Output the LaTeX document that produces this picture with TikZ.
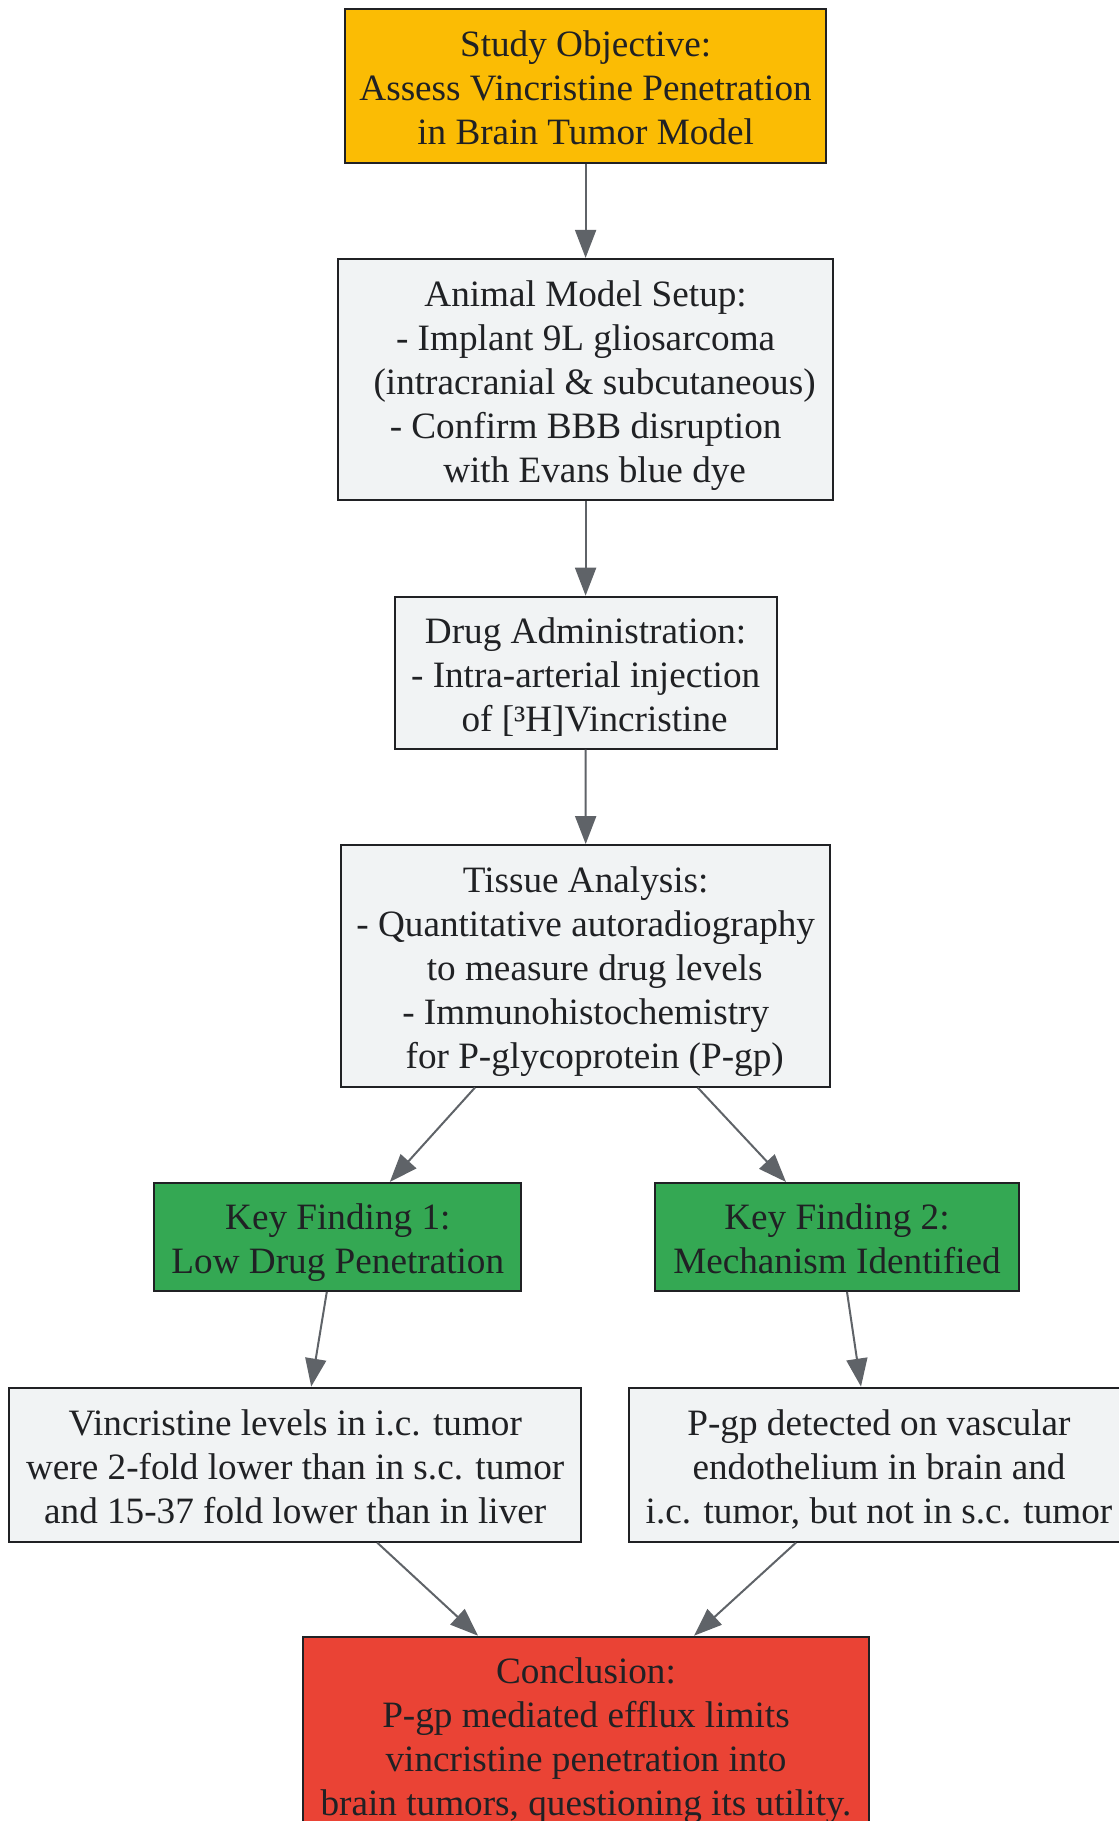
\documentclass[tikz,border=0pt]{standalone}
\usepackage{fontspec}
\setmainfont{Liberation Serif}
\usetikzlibrary{arrows.meta,calc}
\definecolor{ink}{HTML}{202124}
\definecolor{edge}{HTML}{5F6368}
\definecolor{cyellow}{HTML}{FBBC04}
\definecolor{cgray}{HTML}{F1F3F4}
\definecolor{cgreen}{HTML}{34A853}
\definecolor{cred}{HTML}{EA4335}
\tikzset{
  box/.style={draw=ink, line width=2pt, text=ink, inner sep=0pt, align=center,
    font=\fontsize{37.2}{44}\selectfont},
  conn/.style={draw=edge, line width=2pt, -{Triangle[length=28pt,width=21pt]}}
}
\newcommand{\ind}{\hspace*{18pt}}
\newcommand{\firststrut}{\rule{0pt}{42pt}}
\newcommand{\laststrut}{\strut}
\begin{document}
\begin{tikzpicture}[x=1pt,y=-1pt]
\useasboundingbox (0,0) rectangle (1119,1821);
\clip (0,0) rectangle (1119,1821);
\node[box, fill=cyellow, minimum width=481.7pt, minimum height=153.2pt] (n1) at (585.6,85.9)
  {\firststrut Study Objective:\\Assess Vincristine Penetration\\in Brain Tumor Model\laststrut};
\node[box, fill=cgray, minimum width=495.7pt, minimum height=241.4pt] (n2) at (585.6,379.6)
  {\firststrut Animal Model Setup:\\- Implant 9L gliosarcoma\\\ind(intracranial \& subcutaneous)\\- Confirm BBB disruption\\\ind with Evans blue dye\laststrut};
\node[box, fill=cgray, minimum width=382pt, minimum height=152pt] (n3) at (585.6,672.7)
  {\firststrut Drug Administration:\\- Intra-arterial injection\\\ind of [³H]Vincristine\laststrut};
\node[box, fill=cgray, minimum width=488.7pt, minimum height=241.5pt] (n4) at (585.7,965.8)
  {\firststrut Tissue Analysis:\\- Quantitative autoradiography\\\ind to measure drug levels\\- Immunohistochemistry\\\ind for P-glycoprotein (P-gp)\laststrut};
\node[box, fill=cgreen, minimum width=366.8pt, minimum height=107.9pt] (kf1) at (337.8,1236.9)
  {\firststrut Key Finding 1:\\Low Drug Penetration\laststrut};
\node[box, fill=cgreen, minimum width=364.5pt, minimum height=107.9pt] (kf2) at (837,1236.9)
  {\firststrut Key Finding 2:\\Mechanism Identified\laststrut};
\node[box, fill=cgray, minimum width=571.7pt, minimum height=154pt] (l) at (295.2,1464.6)
  {\firststrut Vincristine levels in i.c. tumor\\were 2-fold lower than in s.c. tumor\\and 15-37 fold lower than in liver\laststrut};
\node[box, fill=cgray, minimum width=501pt, minimum height=154pt] (r) at (879,1464.6)
  {\firststrut P-gp detected on vascular\\endothelium in brain and\\i.c. tumor, but not in s.c. tumor\laststrut};
\node[box, fill=cred, minimum width=566pt, minimum height=197pt] (c) at (586,1735.2)
  {\firststrut Conclusion:\\P-gp mediated efflux limits\\vincristine penetration into\\brain tumors, questioning its utility.\laststrut};
\draw[conn] (n1.south) -- (n2.north);
\draw[conn] (n2.south) -- (n3.north);
\draw[conn] (n3.south) -- (n4.north);
\draw[conn] ([xshift=-110.7pt]n4.south) -- ([xshift=52pt]kf1.north);
\draw[conn] ([xshift=112pt]n4.south) -- ([xshift=-51pt]kf2.north);
\draw[conn] ([xshift=-11pt]kf1.south) -- ([xshift=16pt]l.north);
\draw[conn] ([xshift=10pt]kf2.south) -- ([xshift=-18pt]r.north);
\draw[conn] ([xshift=82pt]l.south) -- ([xshift=-108pt]c.north);
\draw[conn] ([xshift=-83pt]r.south) -- ([xshift=108pt]c.north);
\end{tikzpicture}
\end{document}
